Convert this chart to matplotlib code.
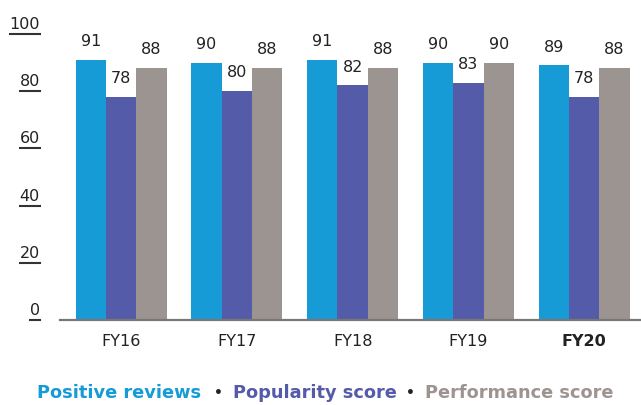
import numpy as np
import matplotlib
matplotlib.use("Agg")
import matplotlib.pyplot as plt
from matplotlib.lines import Line2D

years = ["FY16", "FY17", "FY18", "FY19", "FY20"]
positive = [91, 90, 91, 90, 89]
popularity = [78, 80, 82, 83, 78]
performance = [88, 88, 88, 90, 88]
series_names = ["Positive reviews", "Popularity score", "Performance score"]
colors = ["#179bd7", "#545ba9", "#9c9490"]
yticks = [0, 20, 40, 60, 80, 100]

W, H = 641, 405
fig = plt.figure(figsize=(W / 100, H / 100), dpi=100)
ax = fig.add_axes([60 / W, 85 / H, 1 - 60 / W, (320 - 34) / H])

x = np.arange(len(years))
bw = 0.262
for i, (vals, c) in enumerate(zip([positive, popularity, performance], colors)):
    bars = ax.bar(x + (i - 1) * bw, vals, bw, color=c, zorder=2)
    for b, v in zip(bars, vals):
        ax.annotate(str(v), (b.get_x() + b.get_width() / 2, v),
                    xytext=(0, 10), textcoords="offset points",
                    ha="center", va="baseline", fontsize=11.5, color="#222222")

ax.set_xlim(-0.527, 4.49)
ax.set_ylim(0, 100)
for s in ["top", "right", "left"]:
    ax.spines[s].set_visible(False)
ax.spines["bottom"].set_color("#777777")
ax.spines["bottom"].set_linewidth(1.6)
ax.set_yticks([])
ax.set_xticks(x)
ax.set_xticklabels(years, fontsize=11.5, color="#222222")
ax.tick_params(axis="x", length=0, pad=10)
ax.get_xticklabels()[-1].set_fontweight("bold")

# y labels drawn as text with a rule underneath
trans = matplotlib.transforms.blended_transform_factory(fig.transFigure, ax.transData)
ylabels = []
for t in yticks:
    ylabels.append(ax.text(40 / W, t, str(t), transform=trans, ha="right",
                           va="baseline", fontsize=11.5, color="#222222",
                           clip_on=False))
fig.canvas.draw()
r = fig.canvas.get_renderer()
for t, lab in zip(yticks, ylabels):
    bb = lab.get_window_extent(r)
    y0 = ax.transData.transform((0, t))[1]
    lab.set_position((40 / W, ax.transData.inverted().transform((0, y0 + 5))[1]))
    fig.add_artist(Line2D([bb.x0 / W, bb.x1 / W], [y0 / H, y0 / H],
                          color="#333333", lw=1.5))

# legend row
leg_y = 1 - 393 / H
parts = [(37, series_names[0], colors[0], 12.8), (214, "•", "#222222", 10),
         (233, series_names[1], colors[1], 12.8), (406, "•", "#222222", 10),
         (425, series_names[2], colors[2], 12.8)]
for px, s, c, fs in parts:
    fig.text(px / W, leg_y, s, ha="left", va="center", fontsize=fs,
             fontweight="bold", color=c)

fig.savefig("out.png", dpi=100)
